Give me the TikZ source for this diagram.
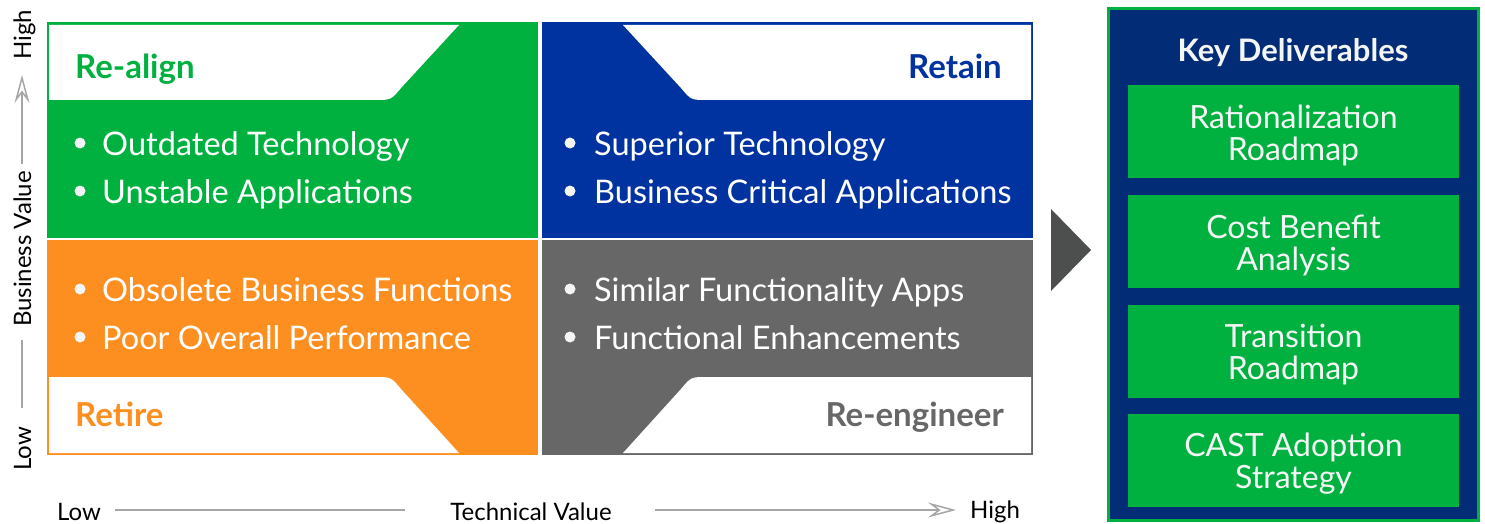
\documentclass[tikz,border=0pt]{standalone}
\usepackage{fontspec}
\setmainfont{Lato}
\usetikzlibrary{arrows.meta}
\definecolor{cgreen}{HTML}{00B140}
\definecolor{cblue}{HTML}{0033A0}
\definecolor{corange}{HTML}{FD8F21}
\definecolor{cgray}{HTML}{676767}
\definecolor{cnavy}{HTML}{022D76}
\definecolor{ctri}{HTML}{4D4F4E}
\definecolor{caxis}{HTML}{A6A6A6}
\definecolor{cwhite}{HTML}{F4F5F5}
\begin{document}
\begin{tikzpicture}[x=1pt,y=-1pt,
  head/.style={font=\fontsize{33}{36}\selectfont\bfseries, inner sep=0pt},
  item/.style={anchor=base west, text=white, font=\fontsize{32.5}{36}\selectfont, inner sep=0pt},
  dot/.style={circle, fill=cwhite, minimum size=11pt, inner sep=0pt},
  axlbl/.style={font=\fontsize{24}{28}\selectfont, inner sep=0pt, text=black},
  axline/.style={draw=caxis, line width=2.5pt},
  axarrow/.style={axline, -{Stealth[open, length=28pt, width=15pt, inset=10pt, line width=1.5pt]}},
  delbox/.style={fill=cgreen, minimum width=331pt, minimum height=93pt, inner sep=0pt},
  deltext/.style={align=center, text=cwhite, inner sep=0pt, font=\fontsize{32}{32}\selectfont}
]
\useasboundingbox (0,0) rectangle (1485,524);

% quadrants
\fill[cgreen] (47,22) rectangle (538,238);
\fill[cblue] (542,22) rectangle (1033,238);
\fill[corange] (47,240) rectangle (538,455);
\fill[cgray] (542,240) rectangle (1033,455);

% white tabs
\fill[white] (49,25) -- (459,25) -- (401,88) .. controls (391,100) .. (375,100) -- (49,100) -- cycle;
\fill[white] (1031,25) -- (623,25) -- (681,88) .. controls (691,100) .. (707,100) -- (1031,100) -- cycle;
\fill[white] (49,453) -- (459,453) -- (401,389) .. controls (391,377) .. (375,377) -- (49,377) -- cycle;
\fill[white] (1031,453) -- (623,453) -- (681,389) .. controls (691,377) .. (707,377) -- (1031,377) -- cycle;

% headings
\node[head, text=cgreen, anchor=base west] (realign) at (75,79) {Re-align};
\node[head, text=cblue, anchor=base east] (retain) at (1002,79) {Retain};
\node[head, text=corange, anchor=base west] (retire) at (75,426) {Retire};
\node[head, text=cgray, anchor=base east] (reeng) at (1004,426) {Re-engineer};

% bullets
\node[dot] (b1) at (80,143) {};
\node[item] (t1) at (102,155) {Outdated Technology};
\node[dot] (b2) at (80,191) {};
\node[item] (t2) at (102,203) {Unstable Applications};
\node[dot] (b3) at (570,143) {};
\node[item] (t3) at (594,155) {Superior Technology};
\node[dot] (b4) at (570,191) {};
\node[item] (t4) at (594,203) {Business Critical Applications};
\node[dot] (b5) at (80,289) {};
\node[item] (t5) at (102,301) {Obsolete Business Functions};
\node[dot] (b6) at (80,337) {};
\node[item] (t6) at (102,349) {Poor Overall Performance};
\node[dot] (b7) at (570,289) {};
\node[item] (t7) at (594,301) {Similar Functionality Apps};
\node[dot] (b8) at (570,337) {};
\node[item] (t8) at (594,349) {Functional Enhancements};

% vertical axis
\node[axlbl, rotate=90, anchor=base] (vhigh) at (31,35) {High};
\node[axlbl, rotate=90, anchor=base] (vval) at (31,249) {Business Value};
\node[axlbl, rotate=90, anchor=base] (vlow) at (31,449) {Low};
\coordinate (va1) at (22,164);
\coordinate (va2) at (22,75);
\coordinate (vb1) at (22,340);
\coordinate (vb2) at (22,408);
\draw[axarrow] (va1) -- (va2);
\draw[axline] (vb1) -- (vb2);

% horizontal axis
\node[axlbl, anchor=base west] (hlow) at (57,520) {Low};
\node[axlbl, anchor=base] (hval) at (531,520) {Technical Value};
\node[axlbl, anchor=base west] (hhigh) at (970,518) {High};
\coordinate (ha1) at (115,510);
\coordinate (ha2) at (405,510);
\coordinate (hb1) at (655,510);
\coordinate (hb2) at (956,510);
\draw[axline] (ha1) -- (ha2);
\draw[axarrow] (hb1) -- (hb2);

% triangle
\fill[ctri] (1051,209) -- (1091,250) -- (1051,291) -- cycle;

% right panel
\draw[line width=3pt, draw=cgreen, fill=cnavy] (1108.5,8.5) rectangle (1478.5,520.5);
\node[font=\fontsize{31}{34}\selectfont\bfseries, text=cwhite, inner sep=0pt] (kd) at (1293,53) {Key Deliverables};
\node[delbox] (d1) at (1293.5,131.5) {};
\node[delbox] (d2) at (1293.5,241.5) {};
\node[delbox] (d3) at (1293.5,351) {};
\node[delbox] (d4) at (1293.5,460.5) {};
\node[deltext] (d1t) at (1293.5,135) {Rationalization\\Roadmap};
\node[deltext] (d2t) at (1293.5,245) {Cost Benefit\\Analysis};
\node[deltext] (d3t) at (1293.5,354.5) {Transition\\Roadmap};
\node[deltext] (d4t) at (1293.5,464) {CAST Adoption\\Strategy};
\end{tikzpicture}
\end{document}
